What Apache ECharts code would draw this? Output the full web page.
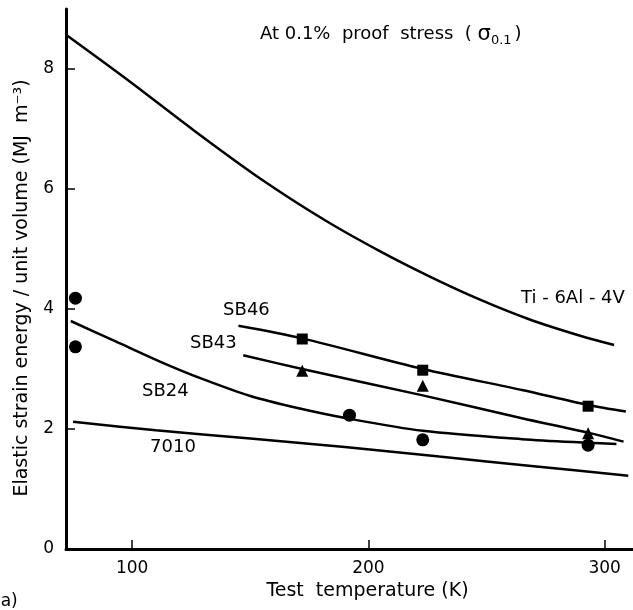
<!DOCTYPE html>
<html>
<head>
<meta charset="utf-8">
<script src="https://cdn.jsdelivr.net/npm/echarts@6/dist/echarts.min.js"></script>
<style>
  html, body { margin: 0; padding: 0; background: #fff; }
  #chart { width: 633px; height: 610px; }
</style>
</head>
<body>
<div id="chart"></div>
<script>
// curves: [temperature K, energy MJ m^-3]
var tiCurve = [[72, 8.57], [98, 7.82], [126, 6.98], [154, 6.18], [182, 5.47], [205, 4.96], [226, 4.54],
  [247, 4.16], [268, 3.83], [290, 3.55], [304, 3.4]];
var sb46Curve = [[145, 3.72], [172, 3.51], [223, 3.0], [265, 2.65], [293, 2.4], [309, 2.29]];
var sb43Curve = [[147, 3.23], [172, 3.0], [223, 2.56], [265, 2.18], [293, 1.94], [308, 1.79]];
var sb24Curve = [[74, 3.8], [93, 3.46], [112, 3.12], [130, 2.83], [150, 2.55], [170, 2.35], [192, 2.17],
  [223, 1.97], [265, 1.83], [293, 1.77], [305, 1.75]];
var a7010Curve = [[75, 2.12], [110, 1.98], [150, 1.84], [190, 1.7], [230, 1.54], [270, 1.38], [310, 1.22]];

// measured points
var sb46Points = [[172, 3.5], [223, 2.98], [293, 2.38]];
var sb43Points = [[172, 2.97], [223, 2.72], [293, 1.93]];
var sb24Points = [[76, 4.18], [76, 3.37], [192, 2.23], [223, 1.82], [293, 1.73]];

// text labels placed in data coordinates: [x, y, text]
var curveLabels = [
  [264.6, 4.18, 'Ti - 6Al - 4V'],
  [138.5, 3.98, 'SB46'],
  [124.5, 3.43, 'SB43'],
  [104.2, 2.62, 'SB24'],
  [107.6, 1.70, '7010']
];
var xTicks = [100, 200, 300];
var yTicks = [0, 2, 4, 6, 8];

var font = 'DejaVu Sans';
var chart = echarts.init(document.getElementById('chart'));

function curve(data) {
  return {
    type: 'line',
    data: data,
    smooth: 0.3,
    showSymbol: false,
    silent: true,
    lineStyle: { color: '#000', width: 2.5 },
    z: 3
  };
}

function points(data, symbol, size) {
  return {
    type: 'scatter',
    data: data,
    symbol: symbol,
    symbolSize: size,
    itemStyle: { color: '#000', opacity: 1 },
    z: 4
  };
}

function textSeries(data, label) {
  return {
    type: 'scatter',
    data: data,
    symbolSize: 0,
    silent: true,
    itemStyle: { opacity: 1 },
    label: Object.assign({
      show: true,
      position: [0, 0],
      align: 'left',
      verticalAlign: 'middle',
      color: '#000',
      opacity: 1,
      fontFamily: font
    }, label),
    z: 5
  };
}

chart.setOption({
  animation: false,
  backgroundColor: '#fff',
  grid: { left: 66, top: 9, right: 0, bottom: 61 },
  xAxis: {
    type: 'value',
    min: 72,
    max: 312,
    name: 'Test  temperature (K)',
    nameLocation: 'middle',
    nameGap: 32,
    nameTextStyle: { color: '#000', fontFamily: font, fontSize: 19, padding: [0, 0, 0, 36] },
    axisLine: { lineStyle: { color: '#000', width: 3 } },
    axisTick: { inside: true, length: 9, customValues: xTicks, lineStyle: { color: '#000', width: 1.5 } },
    axisLabel: { customValues: xTicks, color: '#000', fontFamily: font, fontSize: 17, margin: 11 },
    splitLine: { show: false }
  },
  yAxis: {
    type: 'value',
    min: 0,
    max: 9,
    name: 'Elastic strain energy / unit volume (MJ  m⁻³)',
    nameLocation: 'middle',
    nameGap: 34,
    nameTextStyle: { color: '#000', fontFamily: font, fontSize: 19, padding: [0, 18, 0, 0] },
    axisLine: { lineStyle: { color: '#000', width: 3 } },
    axisTick: { inside: true, length: 9, customValues: yTicks, lineStyle: { color: '#000', width: 1.5 } },
    axisLabel: { customValues: yTicks, color: '#000', fontFamily: font, fontSize: 17, margin: 12 },
    splitLine: { show: false }
  },
  series: [
    curve(tiCurve),
    curve(sb46Curve),
    curve(sb43Curve),
    curve(sb24Curve),
    curve(a7010Curve),
    points(sb46Points, 'rect', 11),
    points(sb43Points, 'triangle', 12),
    points(sb24Points, 'circle', 13),
    textSeries(curveLabels, {
      fontSize: 18,
      formatter: function (p) { return p.value[2]; }
    }),
    textSeries([[154.1, 8.57]], {
      formatter: '{a|At 0.1%  proof  stress  ( }{s|σ}{sub|0.1}{a|)}',
      rich: {
        a: { color: '#000', fontFamily: font, fontSize: 18 },
        s: { color: '#000', fontFamily: font, fontSize: 21 },
        sub: { color: '#000', fontFamily: font, fontSize: 13, padding: [11, 3, 0, 0] }
      }
    })
  ],
  graphic: [{
    type: 'text',
    left: -6,
    top: 593,
    style: { text: '(a)', fill: '#000', font: '17px "DejaVu Sans"' }
  }]
});
</script>
</body>
</html>
